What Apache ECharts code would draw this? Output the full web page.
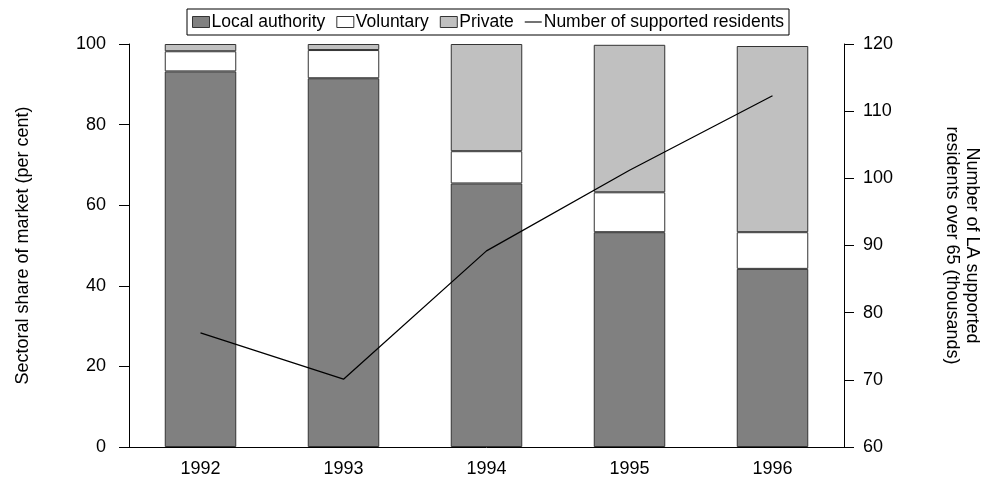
<!DOCTYPE html>
<html>
<head>
<meta charset="utf-8">
<script src="https://cdn.jsdelivr.net/npm/echarts@6/dist/echarts.min.js"></script>
<style>
html, body { margin: 0; padding: 0; background: #fff; }
#chart { width: 990px; height: 480px; }
</style>
</head>
<body>
<div id="chart"></div>
<script>
var years = ['1992', '1993', '1994', '1995', '1996'];
var localAuthority = [93.2, 91.5, 65.4, 53.3, 44.2];
var voluntary = [5.0, 7.0, 8.0, 9.9, 9.1];
var privateShare = [1.8, 1.5, 26.6, 36.6, 46.2];
var residents = [77.0, 70.1, 89.2, 101.2, 112.3];
var shareTicks = [0, 100, 20];      // min, max, step
var residentTicks = [60, 120, 10];

var font = '"Liberation Sans", Arial, sans-serif';

function barSeries(name, data, color) {
	return {
		name: name,
		type: 'bar',
		stack: 'share',
		barWidth: '50%',
		data: data,
		itemStyle: { color: color, borderColor: '#333', borderWidth: 1 }
	};
}

var myChart = echarts.init(document.getElementById('chart'));
var option = {
	animation: false,
	textStyle: { fontFamily: font },
	legend: {
		left: 187,
		top: 9,
		padding: [4, 5, 4, 5],
		borderColor: '#000',
		borderWidth: 1,
		itemWidth: 17,
		itemHeight: 11,
		itemGap: 11,
		icon: 'rect',
		itemStyle: { borderColor: '#333', borderWidth: 1 },
		textStyle: { fontSize: 17.5, color: '#000', fontFamily: font, padding: [0, 0, 0, -3] },
		data: [
			'Local authority', 'Voluntary', 'Private',
			{ name: 'Number of supported residents', icon: 'path://M0,0 L20,0 L20,1.3 L0,1.3 Z', itemStyle: { borderWidth: 0 } }
		]
	},
	grid: { left: 129, right: 145, top: 44, bottom: 33 },
	xAxis: {
		type: 'category',
		data: years,
		axisLine: { lineStyle: { color: '#000', width: 1 } },
		axisTick: { show: false },
		axisLabel: { color: '#000', fontSize: 18, margin: 13 }
	},
	yAxis: [{
		type: 'value',
		min: shareTicks[0],
		max: shareTicks[1],
		interval: shareTicks[2],
		name: 'Sectoral share of market (per cent)',
		nameLocation: 'middle',
		nameGap: 97,
		nameTextStyle: { fontSize: 18, color: '#000' },
		axisLine: { show: true, lineStyle: { color: '#000' } },
		axisTick: { show: true, length: 10, lineStyle: { color: '#000' } },
		axisLabel: { color: '#000', fontSize: 18, margin: 23 },
		splitLine: { show: false }
	}, {
		type: 'value',
		position: 'right',
		min: residentTicks[0],
		max: residentTicks[1],
		interval: residentTicks[2],
		name: 'Number of LA supported\nresidents over 65 (thousands)',
		nameLocation: 'middle',
		nameRotate: -90,
		nameGap: 98,
		nameTextStyle: { fontSize: 18, color: '#000', lineHeight: 20 },
		axisLine: { show: true, lineStyle: { color: '#000' } },
		axisTick: { show: true, length: 10, lineStyle: { color: '#000' } },
		axisLabel: { color: '#000', fontSize: 18, margin: 19 },
		splitLine: { show: false }
	}],
	series: [
		barSeries('Local authority', localAuthority, '#808080'),
		barSeries('Voluntary', voluntary, '#ffffff'),
		barSeries('Private', privateShare, '#c0c0c0'),
		{
			name: 'Number of supported residents',
			type: 'line',
			yAxisIndex: 1,
			data: residents,
			symbol: 'none',
			lineStyle: { color: '#000', width: 1.3 },
			itemStyle: { color: '#000' }
		}
	]
};
myChart.setOption(option);
</script>
</body>
</html>
